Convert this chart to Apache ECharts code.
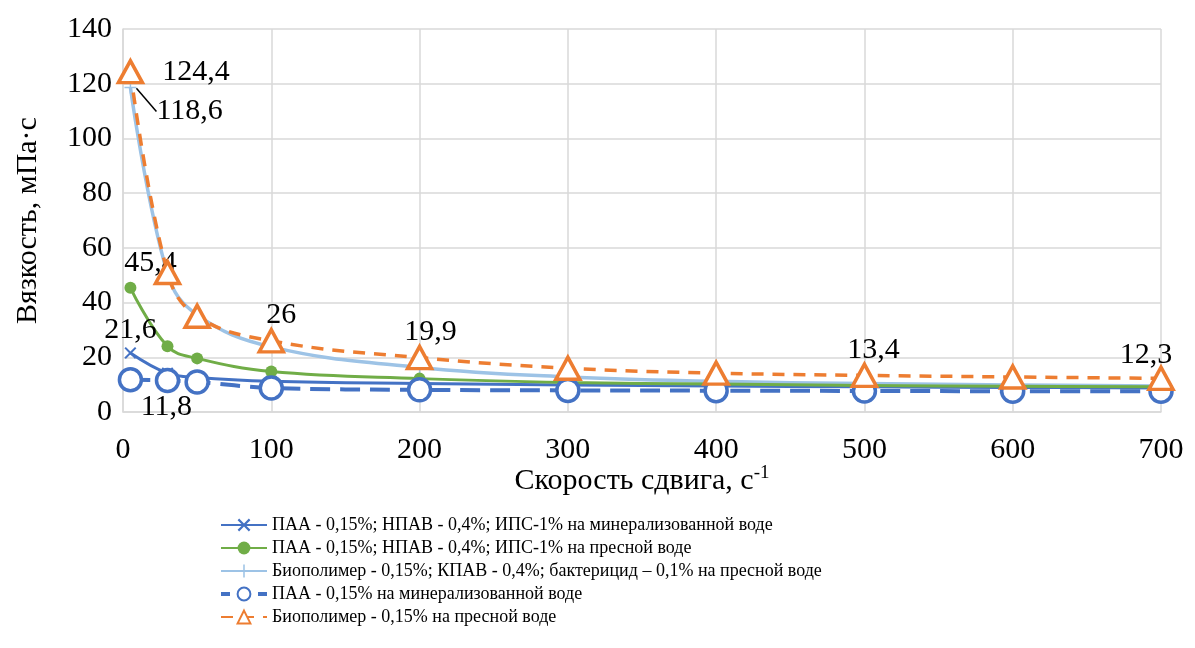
<!DOCTYPE html>
<html><head><meta charset="utf-8">
<script src="https://cdn.jsdelivr.net/npm/echarts@6/dist/echarts.min.js"></script>
<style>html,body{margin:0;padding:0;background:#fff}#c{width:1195px;height:648px}</style>
</head><body><div id="c"></div>
<script>
const shearRates = [5, 30, 50, 100, 200, 300, 400, 500, 600, 700];
const names = [
  'ПАА - 0,15%; НПАВ - 0,4%; ИПС-1% на минерализованной воде',
  'ПАА - 0,15%; НПАВ - 0,4%; ИПС-1% на пресной воде',
  'Биополимер - 0,15%; КПАВ - 0,4%; бактерицид – 0,1% на пресной воде',
  'ПАА - 0,15% на минерализованной воде',
  'Биополимер - 0,15% на пресной воде'
];
const paaMinSurf   = [21.6, 14.2, 12.6, 11.2, 10.4, 9.9, 9.5, 9.2, 9.0, 8.8];
const paaFreshSurf = [45.4, 24.0, 19.6, 14.8, 12.2, 10.8, 10.2, 9.7, 9.4, 9.2];
const bioSurf      = [118.6, 50.5, 35.5, 23.8, 16.3, 12.8, 11.2, 10.4, 9.9, 9.5];
const paaMin       = [11.8, 11.5, 11.0, 8.8, 8.1, 7.9, 7.8, 7.7, 7.6, 7.6];
const bioFresh     = [124.4, 51.0, 35.0, 26.0, 19.9, 16.0, 14.2, 13.4, 12.8, 12.3];
const yTicks = [0, 20, 40, 60, 80, 100, 120, 140];
const xTicks = [0, 100, 200, 300, 400, 500, 600, 700];

const FONT = 'Liberation Serif';
const fmt = v => String(v).replace('.', ',');
const crossPath = 'path://M0,1.2 L1.2,0 L5,3.8 L8.8,0 L10,1.2 L6.2,5 L10,8.8 L8.8,10 L5,6.2 L1.2,10 L0,8.8 L3.8,5 Z';
const plusPath = 'path://M4.4,0 L5.6,0 L5.6,4.4 L10,4.4 L10,5.6 L5.6,5.6 L5.6,10 L4.4,10 L4.4,5.6 L0,5.6 L0,4.4 L4.4,4.4 Z';

function build(vals, labelSpec) {
  return vals.map((v, i) => {
    const item = { value: [shearRates[i], v] };
    if (labelSpec[i]) {
      item.label = Object.assign({ show: true, formatter: fmt(v), color: '#000', fontFamily: FONT, fontSize: 30 }, labelSpec[i]);
    }
    return item;
  });
}

const chart = echarts.init(document.getElementById('c'));
chart.setOption({
  animation: false,
  grid: { left: 123, right: 34, top: 29, bottom: 236, containLabel: false, outerBoundsMode: 'none' },
  xAxis: {
    type: 'value', min: 0, max: 700, interval: 100,
    name: '{a|Скорость сдвига, с}{s|-1}', nameLocation: 'middle', nameGap: 52, nameMoveOverlap: false,
    nameTextStyle: { rich: { a: { fontFamily: FONT, fontSize: 30, color: '#000' }, s: { fontFamily: FONT, fontSize: 19, color: '#000', verticalAlign: 'top', padding: [0, 0, 16, 0] } } },
    axisLine: { show: true, lineStyle: { color: '#d9d9d9', width: 1.5 } },
    axisTick: { show: false },
    splitLine: { show: true, lineStyle: { color: '#d9d9d9', width: 1.5 } },
    axisLabel: { fontFamily: FONT, fontSize: 30, color: '#000', margin: 23 }
  },
  yAxis: {
    type: 'value', min: 0, max: 140, interval: 20,
    name: 'Вязкость, мПа·с', nameLocation: 'middle', nameGap: 80, nameMoveOverlap: false,
    nameTextStyle: { fontFamily: FONT, fontSize: 30, color: '#000' },
    axisLine: { show: true, lineStyle: { color: '#d9d9d9', width: 1.5 } },
    axisTick: { show: false },
    splitLine: { show: true, lineStyle: { color: '#d9d9d9', width: 1.5 } },
    axisLabel: { fontFamily: FONT, fontSize: 30, color: '#000', margin: 11 }
  },
  legend: {
    orient: 'vertical', left: 214, top: 511, itemGap: 5, itemWidth: 46, itemHeight: 16,
    textStyle: { fontFamily: FONT, fontSize: 18, color: '#000' },
    data: names.map((n, i) => i === 3 ? { name: n, lineStyle: { type: [9, 28], width: 4 } } : { name: n })
  },
  series: [
    {
      name: names[0], type: 'line', smooth: 0.4, symbol: crossPath, symbolSize: 12,
      itemStyle: { color: '#4472c4' },
      lineStyle: { color: '#4472c4', width: 3 },
      data: build(paaMinSurf, { 0: { position: 'top', distance: 2 } }),
      z: 3
    },
    {
      name: names[1], type: 'line', smooth: 0.4, symbol: 'circle', symbolSize: 12,
      itemStyle: { color: '#70ad47' },
      lineStyle: { color: '#70ad47', width: 3 },
      data: build(paaFreshSurf, { 0: { position: 'top', distance: 4, offset: [20, 0] } }),
      z: 3
    },
    {
      name: names[2], type: 'line', smooth: 0.4, symbol: plusPath, symbolSize: 12,
      itemStyle: { color: '#9dc3e6' },
      lineStyle: { color: '#9dc3e6', width: 3.5 },
      data: build(bioSurf, { 0: { position: 'right', distance: 20 } }),
      labelLayout: p => p.dataIndex === 0 ? { dy: 24 } : {},
      labelLine: { show: true, length2: 0, lineStyle: { color: '#000', width: 1.5 } },
      z: 2
    },
    {
      name: names[3], type: 'line', smooth: 0.4, symbol: 'circle', symbolSize: 22,
      itemStyle: { color: '#fff', borderColor: '#4472c4', borderWidth: 3.5 },
      lineStyle: { color: '#4472c4', width: 4, type: [20, 10] },
      data: build(paaMin, { 0: { position: 'bottom', distance: 0, offset: [36, 0] } }),
      z: 4
    },
    {
      name: names[4], type: 'line', smooth: 0.4, symbol: 'triangle', symbolSize: [24, 22],
      itemStyle: { color: '#fff', borderColor: '#ed7d31', borderWidth: 3.5 },
      lineStyle: { color: '#ed7d31', width: 3.5, type: [12, 9] },
      data: build(bioFresh, {
        0: { position: 'right', distance: 18 },
        3: { position: 'top', distance: 0, offset: [10, 2] },
        4: { position: 'top', distance: 0, offset: [11, 2] },
        7: { position: 'top', distance: 0, offset: [9, 2] },
        9: { position: 'top', distance: 0, offset: [-15, 4] }
      }),
      z: 5
    }
  ]
});
</script></body></html>
